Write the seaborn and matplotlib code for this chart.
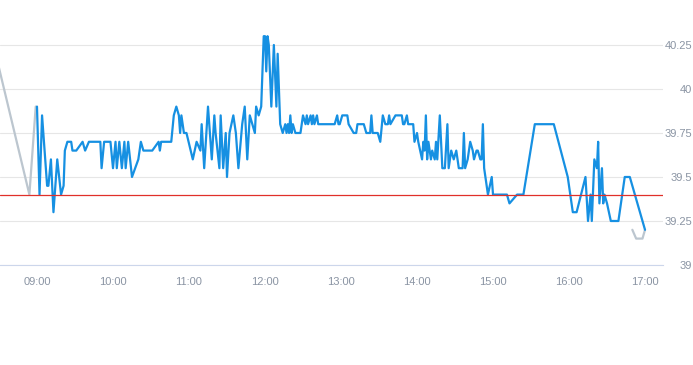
import pandas as pd
import matplotlib
matplotlib.use("Agg")
import matplotlib.pyplot as plt
import matplotlib.dates as mdates
import seaborn as sns

# intraday prices (blue)
times = [
    "09:00", "09:02", "09:04", "09:08", "09:09", "09:11", "09:13", "09:16", "09:19", "09:21",
    "09:22", "09:24", "09:27", "09:28", "09:31", "09:36", "09:38", "09:41", "09:50", "09:51",
    "09:53", "09:58", "10:00", "10:02", "10:03", "10:05", "10:07", "10:09", "10:10", "10:12",
    "10:15", "10:20", "10:22", "10:24", "10:31", "10:36", "10:37", "10:38", "10:46", "10:48",
    "10:50", "10:52", "10:53", "10:54", "10:56", "10:58", "11:03", "11:06", "11:09", "11:10",
    "11:12", "11:15", "11:18", "11:20", "11:21", "11:24", "11:25", "11:27", "11:29", "11:30",
    "11:32", "11:35", "11:37", "11:39", "11:42", "11:44", "11:46", "11:48", "11:52", "11:53",
    "11:55", "11:57", "11:59", "12:00", "12:01", "12:02", "12:03", "12:05", "12:07", "12:09",
    "12:10", "12:12", "12:14", "12:16", "12:17", "12:18", "12:19", "12:20", "12:21", "12:22",
    "12:24", "12:28", "12:29", "12:30", "12:32", "12:33", "12:34", "12:36", "12:37", "12:38",
    "12:39", "12:41", "12:42", "12:55", "12:57", "12:58", "12:59", "13:01", "13:05", "13:06",
    "13:10", "13:12", "13:13", "13:18", "13:20", "13:23", "13:24", "13:25", "13:29", "13:31",
    "13:33", "13:35", "13:37", "13:38", "13:39", "13:43", "13:48", "13:49", "13:50", "13:52",
    "13:53", "13:57", "13:58", "14:00", "14:01", "14:04", "14:05", "14:06", "14:07", "14:08",
    "14:09", "14:11", "14:12", "14:14", "14:15", "14:16", "14:18", "14:20", "14:22", "14:24",
    "14:25", "14:27", "14:29", "14:31", "14:32", "14:33", "14:36", "14:37", "14:38", "14:40",
    "14:42", "14:44", "14:45", "14:47", "14:48", "14:50", "14:51", "14:52", "14:53", "14:56",
    "14:59", "15:00", "15:11", "15:13", "15:19", "15:24", "15:33", "15:48", "15:59", "16:03",
    "16:06", "16:13", "16:15", "16:17", "16:18", "16:20", "16:22", "16:23", "16:24", "16:26",
    "16:27", "16:28", "16:30", "16:33", "16:39", "16:44", "16:48", "17:00",
]
prices = [
    39.90, 39.40, 39.85, 39.45, 39.45, 39.60, 39.30, 39.60, 39.40, 39.45,
    39.65, 39.70, 39.70, 39.65, 39.65, 39.70, 39.65, 39.70, 39.70, 39.55,
    39.70, 39.70, 39.55, 39.70, 39.55, 39.70, 39.55, 39.70, 39.55, 39.70,
    39.50, 39.60, 39.70, 39.65, 39.65, 39.70, 39.65, 39.70, 39.70, 39.85,
    39.90, 39.85, 39.75, 39.85, 39.75, 39.75, 39.60, 39.70, 39.65, 39.80,
    39.55, 39.90, 39.60, 39.85, 39.75, 39.55, 39.85, 39.55, 39.75, 39.50,
    39.75, 39.85, 39.75, 39.55, 39.80, 39.90, 39.60, 39.85, 39.75, 39.90,
    39.85, 39.90, 40.30, 40.30, 40.10, 40.30, 40.25, 39.90, 40.25, 39.90,
    40.20, 39.80, 39.75, 39.80, 39.75, 39.80, 39.75, 39.85, 39.75, 39.80,
    39.75, 39.75, 39.80, 39.85, 39.80, 39.85, 39.80, 39.85, 39.80, 39.85,
    39.80, 39.85, 39.80, 39.80, 39.85, 39.80, 39.80, 39.85, 39.85, 39.80,
    39.75, 39.75, 39.80, 39.80, 39.75, 39.75, 39.85, 39.75, 39.75, 39.70,
    39.85, 39.80, 39.80, 39.85, 39.80, 39.85, 39.85, 39.80, 39.80, 39.85,
    39.80, 39.80, 39.70, 39.75, 39.70, 39.60, 39.70, 39.65, 39.85, 39.60,
    39.70, 39.60, 39.65, 39.60, 39.70, 39.60, 39.85, 39.55, 39.55, 39.80,
    39.55, 39.65, 39.60, 39.65, 39.60, 39.55, 39.55, 39.75, 39.55, 39.60,
    39.70, 39.65, 39.60, 39.65, 39.65, 39.60, 39.60, 39.80, 39.55, 39.40,
    39.50, 39.40, 39.40, 39.35, 39.40, 39.40, 39.80, 39.80, 39.50, 39.30,
    39.30, 39.50, 39.25, 39.40, 39.25, 39.60, 39.55, 39.70, 39.35, 39.55,
    39.35, 39.40, 39.35, 39.25, 39.25, 39.50, 39.50, 39.20,
]

# grey segments before the open and near the close
pre_times = ["08:30", "08:54", "08:59"]
pre_prices = [40.12, 39.40, 39.90]
post_times = ["16:50", "16:53", "16:58", "17:00"]
post_prices = [39.20, 39.15, 39.15, 39.20]

ref_price = 39.40
y_ticks = [39, 39.25, 39.5, 39.75, 40, 40.25]

day = "2024-01-02 "
to_dt = lambda ts: pd.to_datetime([day + t for t in ts])

df = pd.DataFrame({"time": to_dt(times), "price": prices})
df_pre = pd.DataFrame({"time": to_dt(pre_times), "price": pre_prices})
df_post = pd.DataFrame({"time": to_dt(post_times), "price": post_prices})

sns.set_style("white")
plt.rcParams["font.family"] = ["Liberation Sans", "DejaVu Sans"]

fig = plt.figure(figsize=(6.93, 3.65), dpi=100)
ax = fig.add_axes([0.0, 0.274, 663 / 693, 0.7233])

grey = "#bcc6cf"
blue = "#1690e2"
sns.lineplot(data=df_pre, x="time", y="price", ax=ax, color=grey, lw=1.6, sort=False, errorbar=None)
sns.lineplot(data=df_post, x="time", y="price", ax=ax, color=grey, lw=1.6, sort=False, errorbar=None)
sns.lineplot(data=df, x="time", y="price", ax=ax, color=blue, lw=1.6, sort=False, errorbar=None)
ax.axhline(ref_price, color="#e0302a", lw=0.9, zorder=3)

ax.set_xlim(pd.Timestamp(day + "08:30:48"), pd.Timestamp(day + "17:14:12"))
ax.set_ylim(39, 40.5)
ax.set_yticks(y_ticks)
ax.yaxis.set_major_formatter(plt.FormatStrFormatter("%g"))
ax.yaxis.tick_right()
ax.grid(axis="y", color="#e6e6e6", lw=0.8)
ax.set_axisbelow(True)

ax.xaxis.set_major_locator(mdates.HourLocator(byhour=range(9, 18)))
ax.xaxis.set_major_formatter(mdates.DateFormatter("%H:%M"))

for s in ["top", "left", "right"]:
    ax.spines[s].set_visible(False)
ax.spines["bottom"].set_color("#ccd6eb")
ax.spines["bottom"].set_linewidth(0.8)

lab_color = "#8a94a3"
ax.tick_params(axis="x", length=4, width=0.8, color="#ccd6eb", pad=5,
               labelsize=8, labelcolor=lab_color)
ax.tick_params(axis="y", length=0, pad=21, labelsize=8, labelcolor=lab_color)
for lab in ax.get_yticklabels():
    lab.set_horizontalalignment("right")

ax.set_xlabel("")
ax.set_ylabel("")

fig.savefig("out.png", dpi=100)
